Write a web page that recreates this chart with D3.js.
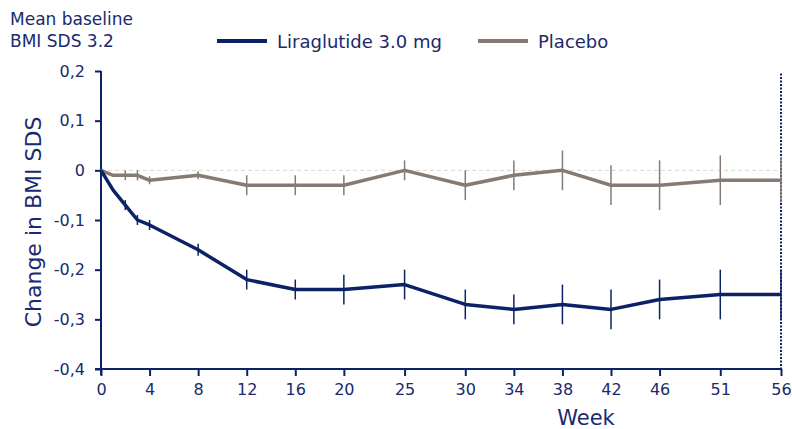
<!DOCTYPE html>
<html><head><meta charset="utf-8">
<script src="https://cdn.jsdelivr.net/npm/d3@7"></script>
<style>body{margin:0;background:#fff}svg{display:block}text{font-family:"DejaVu Sans",Verdana,sans-serif}</style>
</head><body>
<script>
const weeks = [0,1,2,3,4,8,12,16,20,25,30,34,38,42,46,51,56];
const liraglutide = [0,-0.04,-0.07,-0.10,-0.11,-0.16,-0.22,-0.24,-0.24,-0.23,-0.27,-0.28,-0.27,-0.28,-0.26,-0.25,-0.25];
const liraglutideErr = [0,0,0.01,0.01,0.01,0.012,0.02,0.02,0.03,0.03,0.03,0.03,0.04,0.04,0.04,0.05,0.05];
const placebo = [0,-0.01,-0.01,-0.01,-0.02,-0.01,-0.03,-0.03,-0.03,0,-0.03,-0.01,0,-0.03,-0.03,-0.02,-0.02];
const placeboErr = [0,0,0.01,0.01,0.008,0.008,0.02,0.02,0.02,0.02,0.03,0.03,0.04,0.04,0.05,0.05,0.045];
const xTicks = [0,4,8,12,16,20,25,30,34,38,42,46,51,56];
const yTicks = [0.2,0.1,0,-0.1,-0.2,-0.3,-0.4];
const seriesNames = ["Liraglutide 3.0 mg","Placebo"];

const navy = "#0c2266", grey = "#857b74", textCol = "#1a2a6c";
const W = 792, H = 429;
const svg = d3.select("body").append("svg").attr("width",W).attr("height",H);
const x = d3.scaleLinear().domain([0,56]).range([101,781]);
const y = d3.scaleLinear().domain([-0.4,0.2]).range([369,71]);

// zero dashed line
svg.append("line").attr("x1",x(0)).attr("x2",x(56)).attr("y1",y(0)).attr("y2",y(0))
  .attr("stroke","#d9d9d0").attr("stroke-width",1).attr("stroke-dasharray","4,3");

// axes
const yAxis = svg.append("g").attr("transform",`translate(${x(0)},0)`)
  .call(d3.axisLeft(y).tickValues(yTicks).tickSize(6).tickPadding(10)
    .tickFormat(d => d === 0 ? "0" : d3.format(".1f")(d).replace(".",",").replace("−","-")));
yAxis.select(".domain").attr("stroke",navy).attr("stroke-width",2).attr("d",`M0,${y(0.2)}V${y(-0.4)+6}`);
yAxis.selectAll(".tick line").attr("stroke",navy).attr("stroke-width",2);
yAxis.selectAll("text").attr("fill",textCol).attr("font-size",16);

const xAxis = svg.append("g").attr("transform",`translate(0,${y(-0.4)})`)
  .call(d3.axisBottom(x).tickValues(xTicks).tickSize(7).tickPadding(8).tickFormat(d3.format("d")));
xAxis.select(".domain").attr("stroke",navy).attr("stroke-width",2).attr("d",`M${x(0)-6},0H${x(56)}`);
xAxis.selectAll(".tick line").attr("stroke",navy).attr("stroke-width",2);
xAxis.selectAll("text").attr("fill",textCol).attr("font-size",16);

// dotted vertical line at end
svg.append("line").attr("x1",x(56)).attr("x2",x(56)).attr("y1",y(0.195)).attr("y2",y(-0.4))
  .attr("stroke",navy).attr("stroke-width",2).attr("stroke-dasharray","2,1.5");

// series
const series = [
  {name:seriesNames[1], vals:placebo, err:placeboErr, color:grey},
  {name:seriesNames[0], vals:liraglutide, err:liraglutideErr, color:navy}
];
const line = d3.line().x(d=>x(d.w)).y(d=>y(d.v));
series.forEach(s => {
  const pts = weeks.map((w,i)=>({w, v:s.vals[i], e:s.err[i]}));
  svg.append("g").selectAll("line").data(pts.filter(p=>p.e>0)).join("line")
    .attr("x1",d=>x(d.w)).attr("x2",d=>x(d.w))
    .attr("y1",d=>y(d.v+d.e)).attr("y2",d=>y(d.v-d.e))
    .attr("stroke",s.color).attr("stroke-width",1.5);
  svg.append("path").attr("d",line(pts)).attr("fill","none")
    .attr("stroke",s.color).attr("stroke-width",3.5).attr("stroke-linejoin","round");
});

// axis titles
svg.append("text").attr("x",586).attr("y",425).attr("text-anchor","middle")
  .attr("fill",textCol).attr("font-size",21).text("Week");
svg.append("text").attr("transform","translate(41,222) rotate(-90)").attr("text-anchor","middle")
  .attr("fill",textCol).attr("font-size",22).text("Change in BMI SDS");

// top-left note
svg.append("text").attr("x",10).attr("y",25).attr("fill",textCol).attr("font-size",17).text("Mean baseline");
svg.append("text").attr("x",10).attr("y",47).attr("fill",textCol).attr("font-size",17).text("BMI SDS 3.2");

// legend
const leg = [{name:seriesNames[0],color:navy,x:217},{name:seriesNames[1],color:grey,x:478}];
leg.forEach(l=>{
  svg.append("line").attr("x1",l.x).attr("x2",l.x+50).attr("y1",41).attr("y2",41)
    .attr("stroke",l.color).attr("stroke-width",4);
  svg.append("text").attr("x",l.x+60).attr("y",48).attr("fill",textCol).attr("font-size",18).text(l.name);
});
</script>
</body></html>
